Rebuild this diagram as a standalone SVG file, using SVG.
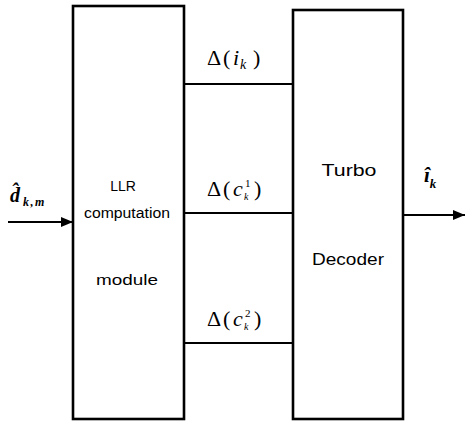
<svg xmlns="http://www.w3.org/2000/svg" width="466" height="421" viewBox="0 0 466 421">
<defs>
<style>
.box{fill:#fff;stroke:#000;stroke-width:2.6}
.ln{stroke:#000;stroke-width:2;fill:none}
.lbl{font-family:"Liberation Sans",Arial,sans-serif;fill:#000;text-anchor:middle}
.math{font-family:"Liberation Serif","Times New Roman",serif;fill:#000;font-size:22px}
.it{font-style:italic}
.bi{font-family:"Liberation Serif","Times New Roman",serif;font-style:italic;font-weight:bold;fill:#000}
</style>
<marker id="ah" viewBox="0 0 12 10" refX="12" refY="5" markerWidth="12" markerHeight="10" markerUnits="userSpaceOnUse" orient="auto">
<path d="M0,0 L12,5 L0,10 Z" fill="#000"/>
</marker>
</defs>
<rect width="466" height="421" fill="#fff"/>
<g id="connectors">
<line class="ln" x1="8" y1="222" x2="73" y2="222" marker-end="url(#ah)"/>
<line class="ln" x1="184" y1="84" x2="293" y2="84"/>
<line class="ln" x1="184" y1="213" x2="293" y2="213"/>
<line class="ln" x1="184" y1="343" x2="293" y2="343"/>
<line class="ln" x1="403" y1="215" x2="465" y2="215" marker-end="url(#ah)"/>
</g>
<g id="llr-module">
<rect class="box" x="73" y="6" width="111" height="413"/>
<text class="lbl" x="123" y="191" font-size="14">LLR</text>
<text class="lbl" x="127" y="218" font-size="14" textLength="86" lengthAdjust="spacingAndGlyphs">computation</text>
<text class="lbl" x="127" y="285" font-size="15" textLength="62" lengthAdjust="spacingAndGlyphs">module</text>
</g>
<g id="turbo-decoder">
<rect class="box" x="293" y="10" width="110" height="409"/>
<text class="lbl" x="349" y="176" font-size="17" textLength="55" lengthAdjust="spacingAndGlyphs">Turbo</text>
<text class="lbl" x="348" y="265" font-size="17" textLength="72" lengthAdjust="spacingAndGlyphs">Decoder</text>
</g>
<g id="labels">
<text class="math" y="65"><tspan x="207">Δ</tspan><tspan x="223">(</tspan><tspan class="it" x="233">i</tspan><tspan class="it" x="240" y="69" font-size="14">k</tspan><tspan x="253" y="65">)</tspan></text>
<text class="math" y="196"><tspan x="207">Δ</tspan><tspan x="223">(</tspan><tspan class="it" x="233">c</tspan><tspan x="245" y="187" font-size="11">1</tspan><tspan class="it" x="244" y="200" font-size="10">k</tspan><tspan x="254" y="196">)</tspan></text>
<text class="math" y="326"><tspan x="207">Δ</tspan><tspan x="223">(</tspan><tspan class="it" x="233">c</tspan><tspan x="245" y="317" font-size="11">2</tspan><tspan class="it" x="244" y="330" font-size="10">k</tspan><tspan x="254" y="326">)</tspan></text>
<text class="bi" y="202"><tspan x="10" font-size="20">d̂</tspan><tspan x="23" y="206" font-size="12" letter-spacing="1.5">k,m</tspan></text>
<text class="bi" x="424" y="182" font-size="21">î<tspan font-size="13" dy="6">k</tspan></text>
</g>
</svg>
